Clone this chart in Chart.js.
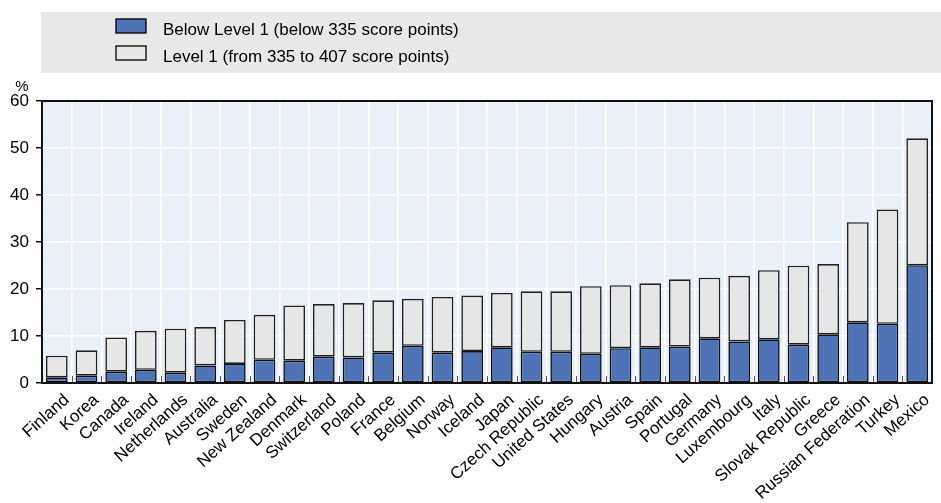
<!DOCTYPE html>
<html lang="en">
<head>
<meta charset="UTF-8">
<title>Students below and at Level 1</title>
<script src="https://cdn.jsdelivr.net/npm/chart.js"></script>
<style>
  html, body { margin: 0; padding: 0; background: #fff; }
  #wrap { width: 941px; height: 503px; }
</style>
</head>
<body>
<div id="wrap"><canvas id="chart"></canvas></div>
<script>
const countries = ['Finland', 'Korea', 'Canada', 'Ireland', 'Netherlands', 'Australia', 'Sweden',
  'New Zealand', 'Denmark', 'Switzerland', 'Poland', 'France', 'Belgium', 'Norway', 'Iceland',
  'Japan', 'Czech Republic', 'United States', 'Hungary', 'Austria', 'Spain', 'Portugal', 'Germany',
  'Luxembourg', 'Italy', 'Slovak Republic', 'Greece', 'Russian Federation', 'Turkey', 'Mexico'];
const belowLevel1 = [1.2, 1.55, 2.4, 2.8, 2.2, 3.75, 4.05, 4.95, 4.75, 5.6, 5.45, 6.45, 7.9, 6.45, 6.8,
  7.6, 6.65, 6.65, 6.2, 7.4, 7.6, 7.75, 9.5, 8.85, 9.3, 8.15, 10.35, 12.9, 12.6, 25.05];
const level1 = [4.6, 5.4, 7.3, 8.3, 9.35, 8.15, 9.35, 9.55, 11.75, 11.2, 11.55, 11.15, 10.0, 11.85, 11.8,
  11.55, 12.85, 12.85, 14.4, 13.4, 13.6, 14.3, 12.9, 13.95, 14.7, 16.8, 14.95, 21.3, 24.3, 27.0];
const seriesNames = ['Below Level 1 (below 335 score points)', 'Level 1 (from 335 to 407 score points)'];
const yTicks = [0, 10, 20, 30, 40, 50, 60];
const yUnit = '%';

const FONT = '"Liberation Sans", Arial, sans-serif';
Chart.defaults.font.family = FONT;
Chart.defaults.color = '#000';

// grey band legend, plot background, % label
const bandLegend = {
  id: 'bandLegend',
  beforeDraw(chart) {
    const ctx = chart.ctx;
    const a = chart.chartArea;
    ctx.save();
    ctx.fillStyle = '#e8e8e8';
    ctx.fillRect(41, 12, chart.width - 41, 61);
    ctx.fillStyle = '#eaf0f8';
    ctx.fillRect(a.left, a.top, a.right - a.left, a.bottom - a.top);

    ctx.font = '17px ' + FONT;
    ctx.textBaseline = 'alphabetic';
    chart.data.datasets.forEach((ds, i) => {
      const y = 19 + i * 27;
      ctx.fillStyle = ds.backgroundColor;
      ctx.fillRect(116, y, 30, 14);
      ctx.strokeStyle = '#000';
      ctx.lineWidth = 1.3;
      ctx.strokeRect(116, y, 30, 14);
      ctx.fillStyle = '#000';
      ctx.textAlign = 'left';
      ctx.fillText(ds.label, 163, y + 16);
    });
    ctx.font = '15px ' + FONT;
    ctx.textAlign = 'center';
    ctx.fillText(yUnit, 22, 91);
    ctx.restore();
  },
  afterDatasetsDraw(chart) {
    const ctx = chart.ctx;
    const a = chart.chartArea;
    const x = chart.scales.x;
    ctx.save();
    // small ticks between categories, pointing up
    ctx.strokeStyle = '#555';
    ctx.lineWidth = 1;
    for (let i = 0; i < countries.length - 1; i++) {
      const px = Math.round((x.getPixelForTick(i) + x.getPixelForTick(i + 1)) / 2) + 0.5;
      ctx.beginPath();
      ctx.moveTo(px, a.bottom);
      ctx.lineTo(px, a.bottom - 7);
      ctx.stroke();
    }
    ctx.strokeStyle = '#111';
    ctx.lineWidth = 2;
    ctx.strokeRect(a.left, a.top, a.right - a.left, a.bottom - a.top);
    ctx.restore();
  }
};

new Chart(document.getElementById('chart'), {
  type: 'bar',
  data: {
    labels: countries,
    datasets: [
      {
        label: seriesNames[0],
        data: belowLevel1,
        backgroundColor: '#4e73b6',
        borderColor: '#111',
        borderWidth: 1.6,
        borderSkipped: false
      },
      {
        label: seriesNames[1],
        data: level1,
        backgroundColor: '#e6e6e6',
        borderColor: '#222',
        borderWidth: 1.6,
        borderSkipped: false
      }
    ]
  },
  options: {
    responsive: true,
    maintainAspectRatio: false,
    animation: false,
    categoryPercentage: 1,
    barPercentage: 0.73,
    layout: { padding: { top: 101, right: 9, left: 0, bottom: 0 } },
    plugins: {
      legend: { display: false },
      tooltip: { enabled: false }
    },
    scales: {
      x: {
        stacked: true,
        grid: { color: '#fff', lineWidth: 1.5, drawTicks: false },
        border: { color: '#111', width: 2 },
        ticks: {
          font: { size: 17 },
          color: '#000',
          minRotation: 42,
          maxRotation: 42,
          autoSkip: false,
          padding: 7,
          labelOffset: 10
        },
        afterFit(scale) { scale.height = 120; }
      },
      y: {
        stacked: true,
        min: 0,
        max: 60,
        afterBuildTicks(scale) { scale.ticks = yTicks.map(v => ({ value: v })); },
        grid: { color: '#fff', lineWidth: 1.5, tickColor: '#111', tickLength: 6 },
        border: { color: '#111', width: 2 },
        ticks: { font: { size: 17 }, color: '#000', padding: 7 },
        afterFit(scale) { scale.width = 42; }
      }
    }
  },
  plugins: [bandLegend]
});
</script>
</body>
</html>
